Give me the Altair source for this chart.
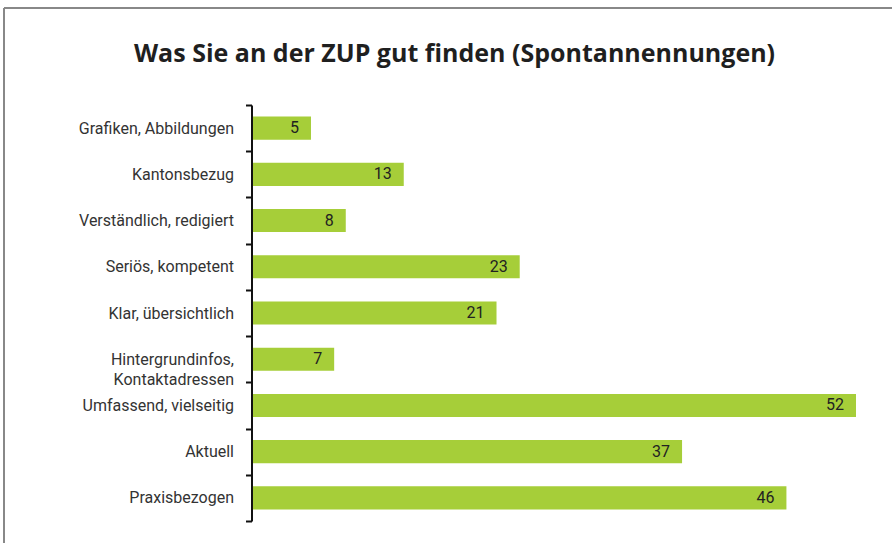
import altair as alt
import pandas as pd

categories = [
    "Grafiken, Abbildungen",
    "Kantonsbezug",
    "Verständlich, redigiert",
    "Seriös, kompetent",
    "Klar, übersichtlich",
    "Hintergrundinfos,\nKontaktadressen",
    "Umfassend, vielseitig",
    "Aktuell",
    "Praxisbezogen",
]
values = [5, 13, 8, 23, 21, 7, 52, 37, 46]

df = pd.DataFrame({"cat": categories, "val": values})

FONT = "Roboto"
GREEN = "#a6ce39"

W, H = 603, 416
LEFT, TOP = 253, 105

y_enc = alt.Y(
    "cat:N",
    sort=categories,
    scale=alt.Scale(paddingInner=0, paddingOuter=0),
    axis=alt.Axis(
        title=None,
        labelExpr="split(datum.label, '\\n')",
        labelFont=FONT,
        labelFontSize=16,
        labelColor="#333333",
        labelPadding=12,
        labelLimit=300,
        labelLineHeight=20,
        domainColor="#111111",
        domainWidth=2,
        tickColor="#111111",
        tickWidth=2,
        tickSize=6,
        tickBand="extent",
        offset=1.5,
    ),
)

x_enc = alt.X(
    "val:Q",
    scale=alt.Scale(domain=[0, 52], nice=False),
    axis=None,
)

bars = alt.Chart(df).mark_bar(color=GREEN, height=alt.RelativeBandSize(0.5)).encode(x=x_enc, y=y_enc)

text = alt.Chart(df).mark_text(
    align="right", dx=-12, font=FONT, fontSize=16, color="#222222", baseline="middle"
).encode(x=x_enc, y=alt.Y("cat:N", sort=categories), text="val:Q")

frame_top = alt.Chart(df).mark_rule(color="#888888", strokeWidth=1.5, clip=False).encode(
    x=alt.value(4 - LEFT), x2=alt.value(892 - LEFT), y=alt.value(8 - TOP)
)
frame_left = alt.Chart(df).mark_rule(color="#888888", strokeWidth=1.5, clip=False).encode(
    x=alt.value(4 - LEFT), y=alt.value(8 - TOP), y2=alt.value(543 - TOP)
)

chart = (
    alt.layer(bars, text, frame_top, frame_left)
    .properties(
        width=W,
        height=H,
        autosize=alt.AutoSizeParams(type="none"),
        padding={"left": LEFT, "top": TOP, "right": 892 - LEFT - W, "bottom": 543 - TOP - H},
        title=alt.Title(
            "Was Sie an der ZUP gut finden (Spontannennungen)",
            font="Open Sans",
            fontSize=25,
            fontWeight="bold",
            color="#1f1f1f",
            anchor="middle",
            dx=-100,
            offset=-60,
        ),
    )
    .configure_view(stroke=None)
)

chart.save("out.html", embed_options={"renderer": "svg", "actions": False})
